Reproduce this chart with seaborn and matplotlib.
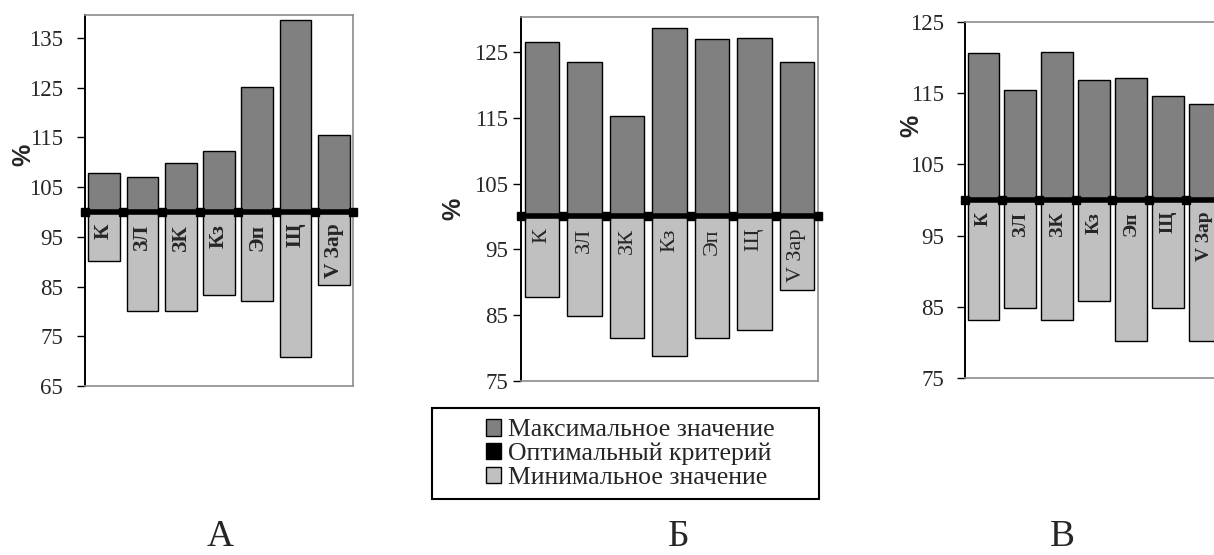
import numpy as np
import pandas as pd
import seaborn as sns
import matplotlib.pyplot as plt
from matplotlib.patches import Patch, Rectangle

# данные (значения в % от оптимума)
categories = ["К", "ЗЛ", "ЗК", "Кз", "Эп", "Щ", "V Зар"]
optimum = 100

max_a = [107.9, 107.0, 109.9, 112.2, 125.2, 138.5, 115.5]
min_a = [90.1, 80.0, 80.0, 83.3, 82.0, 70.8, 85.3]

max_b = [126.5, 123.5, 115.3, 128.7, 126.9, 127.1, 123.5]
min_b = [87.7, 84.9, 81.6, 78.8, 81.6, 82.8, 88.9]

max_c = [120.6, 115.5, 120.8, 116.9, 117.1, 114.6, 113.5]
min_c = [83.1, 84.8, 83.1, 85.8, 80.2, 84.8, 80.2]

panel_names = ["А", "Б", "В"]
legend_labels = ["Максимальное значение", "Оптимальный критерий", "Минимальное значение"]

dark = "#808080"
light = "#c0c0c0"

sns.set_theme(style="white")
plt.rcParams["font.family"] = ["Liberation Serif", "DejaVu Serif"]

W, H = 1214, 555
fig = plt.figure(figsize=(W / 100, H / 100), dpi=100)


def px_axes(left, top, right, bottom):
    return fig.add_axes([left / W, (H - bottom) / H, (right - left) / W, (bottom - top) / H])


def draw_panel(ax, mx, mn, ylim, ticks, bar_w, bold, lab_size, tick_pad, pct_pos):
    df = pd.DataFrame({"cat": categories,
                       "up": np.array(mx) - optimum,
                       "down": np.array(mn) - optimum})
    sns.barplot(data=df, x="cat", y="up", bottom=optimum, color=dark, saturation=1,
                width=bar_w, edgecolor="black", linewidth=1, errorbar=None, ax=ax)
    sns.barplot(data=df, x="cat", y="down", bottom=optimum, color=light, saturation=1,
                width=bar_w, edgecolor="black", linewidth=1, errorbar=None, ax=ax)
    n = len(categories)
    ax.axhline(optimum, color="black", lw=4, zorder=5)
    edges = np.arange(n + 1) - 0.5
    ax.plot(edges, [optimum] * len(edges), ls="none", marker="s", ms=5.5,
            color="black", zorder=6, clip_on=False)
    for i, c in enumerate(categories):
        ax.annotate(c, (i, optimum), xytext=(0, -8.5), textcoords="offset points",
                    rotation=90, ha="center", va="top", fontsize=lab_size,
                    fontweight="bold" if bold else "normal", zorder=7)
    ax.set_xlim(-0.5, n - 0.5)
    ax.set_ylim(*ylim)
    ax.set_yticks(ticks)
    ax.set_xticks([])
    ax.set_xlabel("")
    ax.set_ylabel("")
    ax.tick_params(axis="y", left=True, direction="out", length=6, width=1,
                   color="black", labelsize=16.5, pad=tick_pad)
    for s in ["top", "right", "bottom"]:
        ax.spines[s].set_color("#8c8c8c")
        ax.spines[s].set_linewidth(1.2)
    ax.spines["left"].set_color("black")
    ax.spines["left"].set_linewidth(1.4)
    ax.text(pct_pos[0], pct_pos[1], "%", transform=ax.transAxes, rotation=90,
            ha="center", va="center", fontsize=18, fontweight="bold",
            family=["Liberation Sans", "DejaVu Sans"])


ax_a = px_axes(85, 15, 353, 386)
draw_panel(ax_a, max_a, min_a, (65, 139.6), np.arange(65, 136, 10), 0.83, True, 15.5,
           10, (-0.231, 0.623))

ax_b = px_axes(521, 17, 818, 381)
draw_panel(ax_b, max_b, min_b, (75, 130.3), np.arange(75, 126, 10), 0.81, False, 16,
           3, (-0.229, 0.473))

ax_c = px_axes(965, 22, 1223, 378)
draw_panel(ax_c, max_c, min_c, (75, 125), np.arange(75, 126, 10), 0.86, True, 14,
           9, (-0.206, 0.707))

# легенда
handles = [Patch(facecolor=dark, edgecolor="black", lw=1),
           Patch(facecolor="black", edgecolor="black", lw=1),
           Patch(facecolor=light, edgecolor="black", lw=1)]
fig.legend(handles, legend_labels, loc="center", bbox_to_anchor=(630 / W, (H - 454) / H),
           frameon=False, fontsize=18.5, handlelength=0.6, handleheight=0.6,
           handletextpad=0.25, labelspacing=0.05, borderpad=0)
fig.patches.append(Rectangle((432 / W, (H - 499) / H), (819 - 432) / W, (499 - 408) / H,
                             transform=fig.transFigure, fill=False, edgecolor="black", lw=1.5))

for name, x in zip(panel_names, [220, 679, 1062]):
    fig.text(x / W, 9 / H, name, ha="center", va="baseline", fontsize=27)

fig.savefig("out.png", dpi=100)
